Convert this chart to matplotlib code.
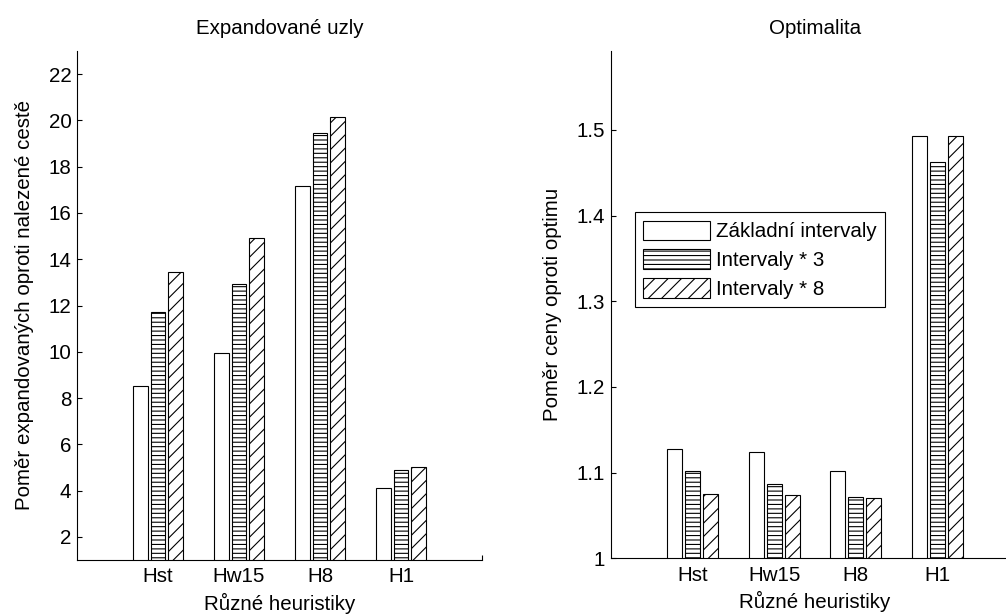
import numpy as np
import matplotlib
matplotlib.use('Agg')
import matplotlib.pyplot as plt

# values
heuristics = ['Hst', 'Hw15', 'H8', 'H1']
series_names = ['Základní intervaly', 'Intervaly * 3', 'Intervaly * 8']

expanded_base = [8.5, 9.95, 17.15, 4.1]
expanded_x3 = [11.7, 12.95, 19.45, 4.87]
expanded_x8 = [13.45, 14.9, 20.13, 5.0]

optimality_base = [1.128, 1.124, 1.102, 1.493]
optimality_x3 = [1.102, 1.087, 1.072, 1.463]
optimality_x8 = [1.0755, 1.074, 1.070, 1.493]

left_yticks = [2, 4, 6, 8, 10, 12, 14, 16, 18, 20, 22]
right_yticks = [1, 1.1, 1.2, 1.3, 1.4, 1.5]
right_yticklabels = ['1', '1.1', '1.2', '1.3', '1.4', '1.5']

plt.rcParams['font.family'] = ['Liberation Sans', 'DejaVu Sans']
plt.rcParams['font.size'] = 18.5
plt.rcParams['hatch.linewidth'] = 1.0

DPI = 80
fig = plt.figure(figsize=(1006 / DPI, 616 / DPI), dpi=DPI)
ax1 = fig.add_axes([77 / 1006, 56 / 616, 405 / 1006, 509 / 616])
ax2 = fig.add_axes([610.7 / 1006, 57.7 / 616, 408.5 / 1006, 507.3 / 616])

hatches = ['', '---', '//']
offsets = [-0.22, 0.0, 0.22]
width = 0.185
x = np.arange(1, len(heuristics) + 1)


def draw_bars(ax, series):
    handles = []
    for vals, off, h, name in zip(series, offsets, hatches, series_names):
        b = ax.bar(x + off, vals, width, color='white', edgecolor='black',
                   linewidth=1.0, hatch=h, label=name)
        handles.append(b)
    return handles


def style_axes(ax, yticks, ylabel, title, ylabelpad):
    ax.set_xlim(0, 5)
    ax.set_xticks(x)
    ax.set_xticklabels(heuristics)
    # the lone tick mark at the right end of the x axis
    ax.set_xticks([5], minor=True)
    ax.set_yticks(yticks)
    ax.spines['top'].set_visible(False)
    ax.spines['right'].set_visible(False)
    for s in ['left', 'bottom']:
        ax.spines[s].set_linewidth(1.0)
    ax.tick_params(direction='in', length=4.5, width=1.0, which='both')
    ax.tick_params(axis='y', pad=5)
    ax.tick_params(axis='x', which='major', pad=6.5, length=0)
    ax.set_xlabel('Různé heuristiky', labelpad=6)
    ax.set_ylabel(ylabel, labelpad=ylabelpad)
    ax.set_title(title, pad=15, fontsize=18.5)


draw_bars(ax1, [expanded_base, expanded_x3, expanded_x8])
ax1.set_ylim(1, 23)
style_axes(ax1, left_yticks, 'Poměr expandovaných oproti nalezené cestě',
           'Expandované uzly', 13)

handles = draw_bars(ax2, [optimality_base, optimality_x3, optimality_x8])
ax2.set_ylim(1, 1.592)
style_axes(ax2, right_yticks, 'Poměr ceny oproti optimu', 'Optimalita', 13)
ax2.set_yticklabels(right_yticklabels)

leg = ax2.legend(handles=handles, loc='upper left',
                 bbox_to_anchor=(0.0595, 0.682), borderaxespad=0,
                 fancybox=False, framealpha=1, edgecolor='black',
                 handlelength=3.25, handleheight=1.1, handletextpad=0.3,
                 labelspacing=0.38, borderpad=0.4, fontsize=18.5)
leg.get_frame().set_linewidth(1.0)

fig.savefig('out.png', dpi=DPI)
